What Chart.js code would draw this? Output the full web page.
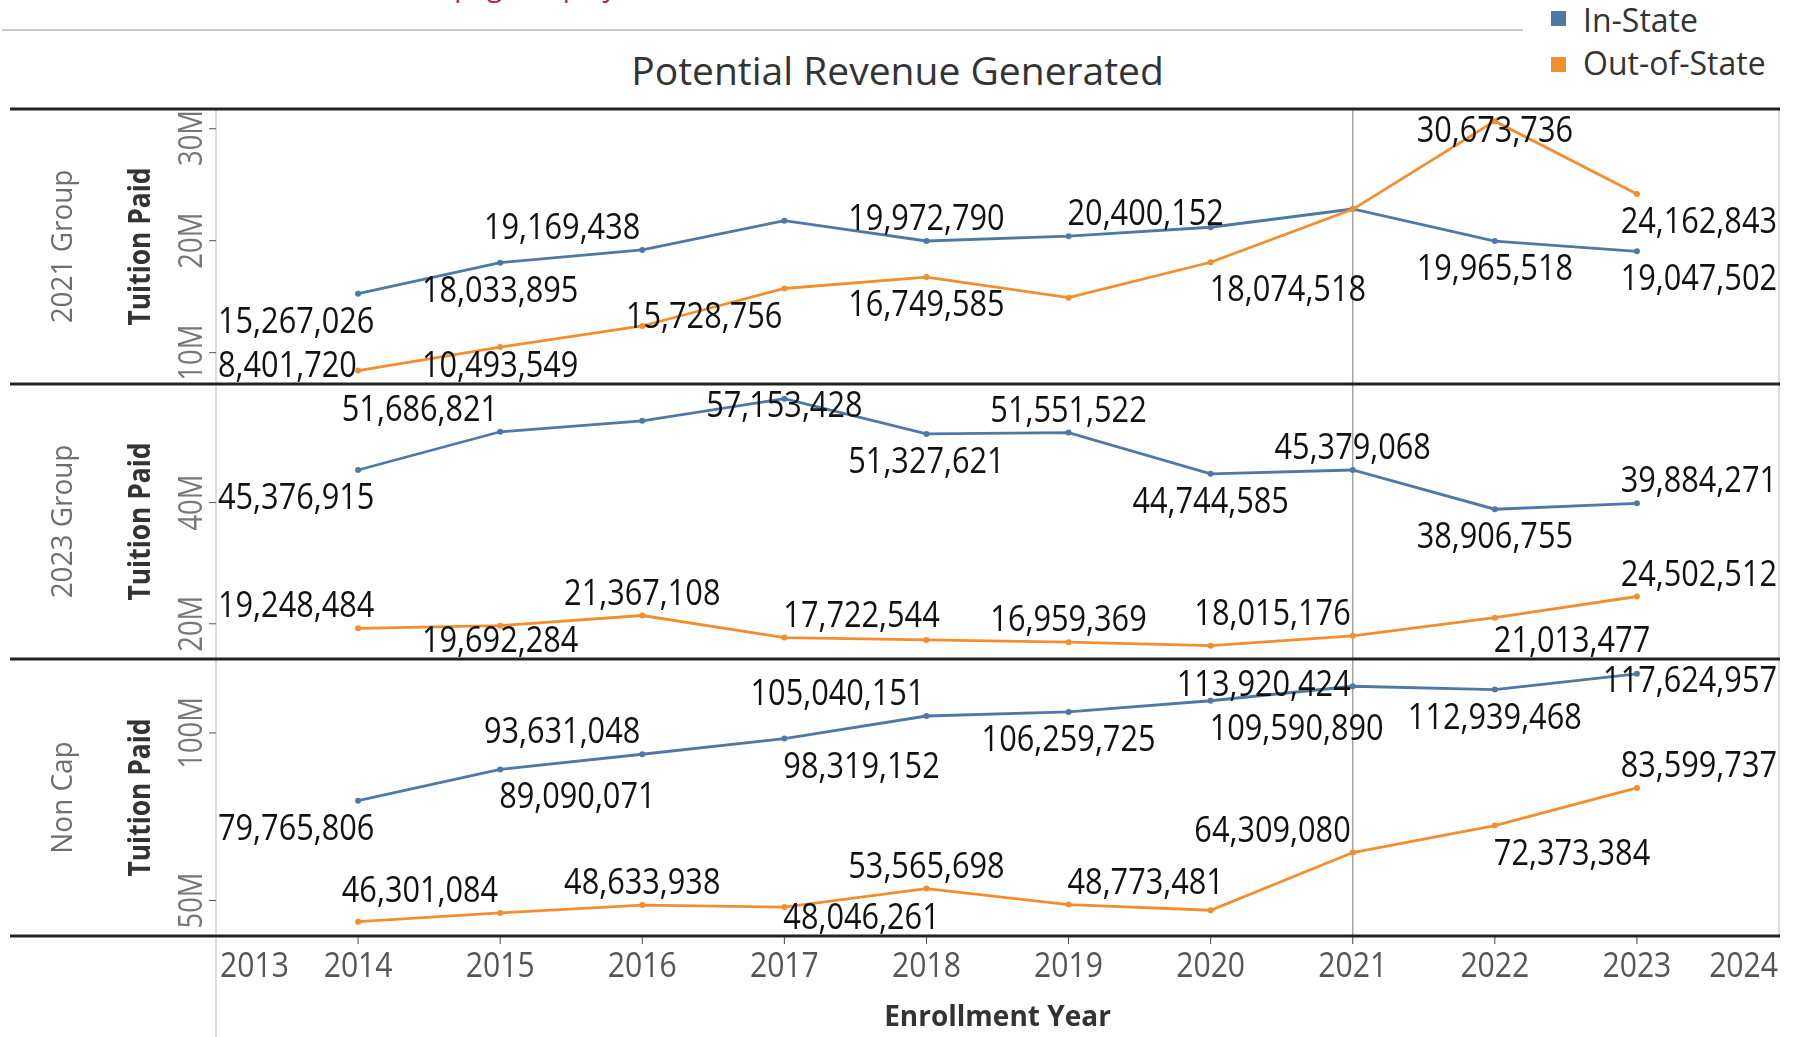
<!DOCTYPE html>
<html>
<head>
<meta charset="utf-8">
<title>Potential Revenue Generated</title>
<script src="https://cdn.jsdelivr.net/npm/chart.js@4.4.1/dist/chart.umd.min.js"></script>
<style>
  html, body { margin: 0; padding: 0; background: #fff; }
  body { position: relative; width: 1795px; height: 1037px; overflow: hidden; font-family: "Open Sans", sans-serif; }
  canvas { position: absolute; left: 0; top: 0; }
  .note { position: absolute; left: 446px; top: -33px; font-size: 28px; line-height: 36px; color: #c2185b; white-space: nowrap; }
  .topline { position: absolute; left: 2px; top: 29px; width: 1521px; height: 2px; background: #cbcbcb; }
  .title { position: absolute; left: 0; top: 47px; width: 1795px; text-align: center; font-size: 39px; line-height: 46px; color: #333; }
  .swatch { position: absolute; left: 1551px; width: 15px; height: 15px; }
  .legtext { position: absolute; left: 1583px; font-size: 32px; line-height: 40px; color: #333; white-space: nowrap; }
  .xtitle { position: absolute; left: 216px; width: 1563px; top: 997px; text-align: center; font-size: 28px; line-height: 36px; font-weight: bold; color: #333; }
</style>
</head>
<body>
<div class="note">(page display)</div>
<div class="topline"></div>
<div class="title">Potential Revenue Generated</div>
<div class="swatch" style="top:11px;background:#4e79a7"></div>
<div class="legtext" style="top:0px">In-State</div>
<div class="swatch" style="top:57px;background:#f28e2b"></div>
<div class="legtext" style="top:43px">Out-of-State</div>
<canvas id="c2021" width="1795" height="1037"></canvas>
<canvas id="c2023" width="1795" height="1037"></canvas>
<canvas id="cNonCap" width="1795" height="1037"></canvas>
<div class="xtitle">Enrollment Year</div>
<script>
// ---- data ----
const years = [2014, 2015, 2016, 2017, 2018, 2019, 2020, 2021, 2022, 2023];
const xTickLabels = ['2013', '2014', '2015', '2016', '2017', '2018', '2019', '2020', '2021', '2022', '2023', '2024'];

// 2021 Group
const inState2021  = [15267026, 18033895, 19169438, 21790000, 19972790, 20400152, 21200000, 22830000, 19965518, 19047502];
const outState2021 = [8401720, 10493549, 12380000, 15728756, 16749585, 14910000, 18074518, 22800000, 30673736, 24162843];
// 2023 Group
const inState2023  = [45376915, 51686821, 53500000, 57153428, 51327621, 51551522, 44744585, 45379068, 38906755, 39884271];
const outState2023 = [19248484, 19692284, 21367108, 17722544, 17330000, 16959369, 16390000, 18015176, 21013477, 24502512];
// Non Cap
const inStateNonCap  = [79765806, 89090071, 93631048, 98319152, 105040151, 106259725, 109590890, 113920424, 112939468, 117624957];
const outStateNonCap = [43670000, 46301084, 48633938, 48046261, 53565698, 48773481, 47100000, 64309080, 72373384, 83599737];

const rowNames = ['2021 Group', '2023 Group', 'Non Cap'];
const yTicks2021 = [10000000, 20000000, 30000000];
const yTickLabels2021 = ['10M', '20M', '30M'];
const yTicks2023 = [20000000, 40000000];
const yTickLabels2023 = ['20M', '40M'];
const yTicksNonCap = [50000000, 100000000];
const yTickLabelsNonCap = ['50M', '100M'];

// where each value label sits relative to its point (null = hidden)
const labelSpots = {
  in2021:    ['BL', 'B', 'TL', null, 'T', 'TR', null, null, 'B', 'BR'],
  out2021:   ['BL', 'B', null, 'BL', 'B', null, 'BR', null, 'T', 'BR'],
  in2023:    ['BL', 'TL', null, 'T', 'B', 'T', 'B', 'T', 'B', 'TR'],
  out2023:   ['TL', 'B', 'T', 'TR', null, 'T', null, 'TL', 'BR', 'TR'],
  inNonCap:  ['BL', 'BR', 'TL', 'BR', 'TL', 'B', 'BR', 'L', 'B', 'TR'],
  outNonCap: [null, 'TL', 'T', 'BR', 'T', 'TR', null, 'TL', 'BR', 'TR']
};

// ---- layout / style ----
const W = 1795, H = 1037;
const plotLeft = 216, plotRight = 1779;
const BLUE = '#4e79a7', ORANGE = '#f28e2b';
const refYear = 2021;

const panels = [
  { id: 'c2021', name: rowNames[0], top: 109, bottom: 384, min: 7200000, max: 31760000,
    inState: inState2021, outState: outState2021, ticks: yTicks2021, tickLabels: yTickLabels2021,
    inSpots: labelSpots.in2021, outSpots: labelSpots.out2021 },
  { id: 'c2023', name: rowNames[1], top: 384, bottom: 659, min: 14190000, max: 59570000,
    inState: inState2023, outState: outState2023, ticks: yTicks2023, tickLabels: yTickLabels2023,
    inSpots: labelSpots.in2023, outSpots: labelSpots.out2023 },
  { id: 'cNonCap', name: rowNames[2], top: 659, bottom: 936, min: 39410000, max: 122050000,
    inState: inStateNonCap, outState: outStateNonCap, ticks: yTicksNonCap, tickLabels: yTickLabelsNonCap,
    inSpots: labelSpots.inNonCap, outSpots: labelSpots.outNonCap }
];

const LABEL_FONT = '37px "Open Sans"', LABEL_SX = 0.83, LABEL_CAP = 26;

function drawText(ctx, text, x, y, font, color, align, sx) {
  ctx.save();
  ctx.font = font;
  ctx.fillStyle = color;
  ctx.textAlign = align;
  ctx.textBaseline = 'alphabetic';
  ctx.translate(x, y);
  ctx.scale(sx, 1);
  ctx.fillText(text, 0, 0);
  ctx.restore();
}

// x = baseline position, y = centre along the text
function drawUpText(ctx, text, x, y, font, color, sx) {
  ctx.save();
  ctx.font = font;
  ctx.fillStyle = color;
  ctx.textAlign = 'center';
  ctx.textBaseline = 'alphabetic';
  ctx.translate(x, y);
  ctx.rotate(-Math.PI / 2);
  ctx.scale(sx, 1);
  ctx.fillText(text, 0, 0);
  ctx.restore();
}

function hline(ctx, x1, x2, y, color, w) {
  ctx.save(); ctx.strokeStyle = color; ctx.lineWidth = w;
  ctx.beginPath(); ctx.moveTo(x1, y); ctx.lineTo(x2, y); ctx.stroke(); ctx.restore();
}
function vline(ctx, x, y1, y2, color, w) {
  ctx.save(); ctx.strokeStyle = color; ctx.lineWidth = w;
  ctx.beginPath(); ctx.moveTo(x, y1); ctx.lineTo(x, y2); ctx.stroke(); ctx.restore();
}

function drawPointLabels(chart, dsIndex, spots, p) {
  const ctx = chart.ctx;
  const ds = chart.data.datasets[dsIndex];
  const meta = chart.getDatasetMeta(dsIndex);
  ctx.save();
  ctx.font = LABEL_FONT;
  meta.data.forEach((pt, i) => {
    const spot = spots[i];
    if (!spot) return;
    const text = ds.data[i].y.toLocaleString('en-US');
    const w = ctx.measureText(text).width * LABEL_SX;
    let cx = pt.x, cy = pt.y;
    if (spot[0] === 'T') cy -= 24;
    else if (spot[0] === 'B') cy += 26;
    else cy -= 3;
    const h = spot.length === 2 ? spot[1] : ((spot === 'L' || spot === 'R') ? spot : '');
    if (h === 'L') cx = pt.x - 2 - w / 2;
    else if (h === 'R') cx = pt.x - 1 + w / 2;
    cx = Math.max(plotLeft + 2 + w / 2, Math.min(plotRight - 2 - w / 2, cx));
    cy = Math.max(p.top + 20, Math.min(p.bottom - 20, cy));
    drawText(ctx, text, cx, cy + LABEL_CAP / 2, LABEL_FONT, '#111', 'center', LABEL_SX);
  });
  ctx.restore();
}

function makePanelPlugin(p, isLast) {
  return {
    id: 'panelDecor',
    beforeDatasetsDraw(chart) {
      const ctx = chart.ctx;
      const xs = chart.scales.x;
      vline(ctx, plotLeft, p.top, isLast ? H : p.bottom, '#d2d2d2', 1.5);
      vline(ctx, plotRight, p.top, p.bottom, '#d2d2d2', 1.5);
      vline(ctx, xs.getPixelForValue(refYear), p.top, p.bottom, '#a3a3a3', 1.5);
    },
    afterDatasetsDraw(chart) {
      const ctx = chart.ctx;
      const xs = chart.scales.x, ys = chart.scales.y;

      drawPointLabels(chart, 0, p.inSpots, p);
      drawPointLabels(chart, 1, p.outSpots, p);

      // y axis ticks + rotated labels
      const tickFont = '33px "Open Sans"';
      ctx.save();
      ctx.font = tickFont;
      p.ticks.forEach((v, i) => {
        const y = ys.getPixelForValue(v);
        hline(ctx, 209, plotLeft, y, '#555', 1);
        const len = ctx.measureText(p.tickLabels[i]).width * 0.83;
        const cy = Math.max(p.top + len / 2 + 1, Math.min(p.bottom - len / 2 - 1, y));
        drawUpText(ctx, p.tickLabels[i], 202, cy, tickFont, '#777', 0.83);
      });
      ctx.restore();

      const mid = (p.top + p.bottom) / 2;
      drawUpText(ctx, p.name, 72, mid, '30px "Open Sans"', '#6e6e6e', 0.93);
      drawUpText(ctx, 'Tuition Paid', 150, mid, 'bold 30px "Open Sans"', '#333', 0.88);

      hline(ctx, 10, 1780, p.top, '#222', 3);

      if (isLast) {
        hline(ctx, 10, 1780, p.bottom, '#222', 3);
        const xFont = '35px "Open Sans"';
        ctx.save();
        ctx.font = xFont;
        xTickLabels.forEach(lbl => {
          const v = Number(lbl);
          const x = xs.getPixelForValue(v);
          if (v > xs.min && v < xs.max) vline(ctx, x, p.bottom + 1, p.bottom + 8, '#444', 1);
          const w = ctx.measureText(lbl).width * 0.86;
          const cx = Math.max(plotLeft + 4 + w / 2, Math.min(plotRight - 1 - w / 2, x));
          drawText(ctx, lbl, cx, 977, xFont, '#555', 'center', 0.86);
        });
        ctx.restore();
      }
    }
  };
}

panels.forEach((p, idx) => {
  const isLast = idx === panels.length - 1;
  new Chart(document.getElementById(p.id), {
    type: 'line',
    data: {
      datasets: [
        {
          label: 'In-State',
          data: years.map((yr, i) => ({ x: yr, y: p.inState[i] })),
          borderColor: BLUE,
          backgroundColor: BLUE,
          borderWidth: 2.8,
          pointRadius: 3,
          pointBorderWidth: 0,
          tension: 0,
          order: 1
        },
        {
          label: 'Out-of-State',
          data: years.map((yr, i) => ({ x: yr, y: p.outState[i] })),
          borderColor: ORANGE,
          backgroundColor: ORANGE,
          borderWidth: 2.8,
          pointRadius: 3,
          pointBorderWidth: 0,
          tension: 0,
          order: 0
        }
      ]
    },
    options: {
      responsive: false,
      animation: false,
      devicePixelRatio: 1,
      events: [],
      layout: { padding: { left: plotLeft, right: W - plotRight, top: p.top, bottom: H - p.bottom } },
      plugins: { legend: { display: false }, tooltip: { enabled: false }, title: { display: false } },
      scales: {
        x: { type: 'linear', min: 2013, max: 2024, display: false },
        y: { type: 'linear', min: p.min, max: p.max, display: false }
      }
    },
    plugins: [makePanelPlugin(p, isLast)]
  });
});
</script>
</body>
</html>
